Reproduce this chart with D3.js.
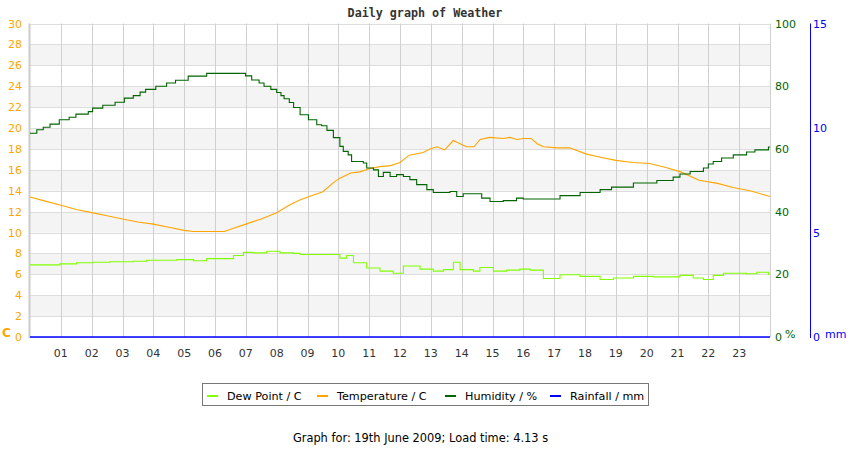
<!DOCTYPE html>
<html>
<head>
<meta charset="utf-8">
<script src="https://cdn.jsdelivr.net/npm/d3@7"></script>
<style>
  body { margin: 0; background: #fff; }
  text { font-family: "DejaVu Sans", sans-serif; }
</style>
</head>
<body>
<svg width="850" height="450"></svg>
<script>
// series data, time in hours of the day
var tempHours = [0, 0.5, 1, 1.5, 2, 2.5, 3, 3.5, 4, 4.5, 5, 5.3, 6, 6.3, 6.6, 7, 7.5, 8, 8.4, 8.75, 9.1, 9.5, 9.85, 10.05, 10.4, 10.7, 11.0, 11.35, 11.7, 12.0, 12.3, 12.75, 12.97, 13.2, 13.45, 13.73, 13.95, 14.15, 14.4, 14.6, 14.9, 15.35, 15.55, 15.8, 16.0, 16.25, 16.45, 16.65, 17.1, 17.5, 18.05, 18.5, 19.0, 19.55, 20.1, 20.65, 21.1, 21.7, 22.3, 22.8, 23.35, 24];
var tempValues = [13.4, 13.0, 12.6, 12.2, 11.9, 11.6, 11.3, 11.0, 10.8, 10.5, 10.2, 10.1, 10.1, 10.1, 10.4, 10.8, 11.3, 11.9, 12.6, 13.1, 13.5, 13.9, 14.8, 15.2, 15.7, 15.8, 16.1, 16.3, 16.4, 16.7, 17.4, 17.65, 18.0, 18.2, 17.9, 18.8, 18.5, 18.2, 18.2, 18.9, 19.1, 19.0, 19.1, 18.9, 19.0, 19.0, 18.5, 18.2, 18.1, 18.1, 17.5, 17.2, 16.9, 16.7, 16.6, 16.2, 15.8, 15.0, 14.7, 14.3, 14.0, 13.45];

var humHours = [0, 0.22, 0.43, 0.65, 0.95, 1.27, 1.49, 1.89, 2.03, 2.36, 2.76, 3.06, 3.35, 3.57, 3.75, 4.08, 4.43, 4.72, 5.13, 5.73, 6.99, 7.19, 7.43, 7.59, 7.81, 8.0, 8.14, 8.24, 8.41, 8.55, 8.76, 9.03, 9.3, 9.46, 9.63, 9.84, 10.05, 10.16, 10.32, 10.43, 10.81, 10.92, 11.14, 11.3, 11.46, 11.68, 11.89, 12.11, 12.32, 12.54, 12.87, 13.08, 13.62, 13.84, 14.05, 14.65, 14.92, 15.35, 15.78, 16.0, 17.19, 17.84, 18.49, 18.86, 19.57, 20.33, 20.86, 21.08, 21.41, 21.84, 22.0, 22.16, 22.43, 22.81, 23.24, 23.51, 23.95, 24];
var humValues = [65.0, 66.1, 66.9, 67.9, 69.3, 70.1, 71.1, 71.9, 73.0, 73.9, 74.9, 76.2, 77.0, 78.1, 79.0, 80.0, 81.0, 81.9, 83.2, 84.1, 83.3, 82.0, 81.0, 80.0, 79.0, 78.0, 77.0, 76.0, 74.8, 73.2, 70.9, 69.3, 67.7, 67.4, 65.9, 63.6, 60.8, 59.2, 58.1, 56.0, 55.5, 53.9, 53.3, 51.2, 52.5, 51.2, 51.8, 51.2, 50.2, 48.6, 47.0, 46.1, 46.4, 44.8, 45.7, 44.3, 43.2, 43.5, 44.3, 44.0, 45.1, 46.1, 47.0, 47.8, 49.1, 49.9, 51.0, 52.0, 52.8, 53.9, 55.2, 56.0, 57.1, 58.1, 59.0, 59.7, 60.6, 60.6];

var dewHours = [0, 0.43, 0.97, 1.51, 2.05, 2.59, 3.35, 3.78, 4.43, 4.76, 5.3, 5.73, 6.27, 6.6, 6.92, 7.24, 7.68, 8.11, 8.54, 8.76, 9.41, 10.05, 10.27, 10.49, 10.92, 11.35, 11.78, 12.11, 12.65, 13.08, 13.41, 13.73, 13.95, 14.38, 14.59, 15.03, 15.46, 15.89, 16.22, 16.65, 17.08, 17.19, 17.62, 17.84, 18.49, 18.92, 19.57, 20.22, 21.08, 21.51, 21.84, 22.16, 22.49, 23.24, 23.57, 23.95, 24];
var dewValues = [6.9, 6.9, 7.0, 7.1, 7.15, 7.2, 7.25, 7.35, 7.35, 7.4, 7.3, 7.5, 7.5, 7.8, 8.1, 8.05, 8.2, 8.05, 8.0, 7.9, 7.9, 7.55, 7.8, 7.1, 6.6, 6.3, 6.1, 6.8, 6.5, 6.3, 6.45, 7.15, 6.45, 6.3, 6.65, 6.3, 6.4, 6.5, 6.4, 5.6, 5.6, 5.95, 5.95, 5.8, 5.5, 5.65, 5.8, 5.75, 5.9, 5.65, 5.5, 5.9, 6.1, 6.05, 6.2, 6.0, 6.0];

var rainHours = [0, 24];
var rainValues = [0, 0];

var hourTicks = d3.range(1, 24);
var tempTicks = d3.range(0, 31, 2);
var humTicks = d3.range(0, 101, 20);
var rainTicks = [0, 5, 10, 15];

var legendItems = [
    { name: "Dew Point / C", color: "#80ff00" },
    { name: "Temperature / C", color: "#ffa500" },
    { name: "Humidity / %", color: "#006400" },
    { name: "Rainfall / mm", color: "#0000ff" }
];

var svg = d3.select('svg');
var plotLeft = 30, plotRight = 770, plotTop = 23.5, plotBottom = 337;

var x = d3.scaleLinear().domain([0, 24]).range([plotLeft, plotRight]);
var yTemp = d3.scaleLinear().domain([0, 30]).range([plotBottom, plotTop]);
var yHum = d3.scaleLinear().domain([0, 100]).range([plotBottom, plotTop]);
var yRain = d3.scaleLinear().domain([0, 15]).range([plotBottom, plotTop]);

// alternating bands
svg.append('g').selectAll('rect')
    .data(d3.range(0, 30, 2))
    .enter()
    .append('rect')
    .attr('x', plotLeft)
    .attr('width', plotRight - plotLeft)
    .attr('y', function(d) { return yTemp(d + 2); })
    .attr('height', function(d) { return yTemp(d) - yTemp(d + 2); })
    .attr('fill', function(d) { return (d / 2) % 2 == 1 ? '#f4f4f4' : '#fff'; });

// horizontal grid
svg.append('g').selectAll('line')
    .data(tempTicks)
    .enter()
    .append('line')
    .attr('x1', plotLeft).attr('x2', plotRight)
    .attr('y1', function(d) { return Math.round(yTemp(d)) + 0.5; })
    .attr('y2', function(d) { return Math.round(yTemp(d)) + 0.5; })
    .attr('stroke', '#dddddd');

// vertical grid
svg.append('g').selectAll('line')
    .data(d3.range(1, 25))
    .enter()
    .append('line')
    .attr('x1', function(d) { return Math.round(x(d)) + 0.5; })
    .attr('x2', function(d) { return Math.round(x(d)) + 0.5; })
    .attr('y1', plotTop).attr('y2', plotBottom)
    .attr('stroke', '#d0d0d0');

// left axis line
svg.append('line')
    .attr('x1', plotLeft - 0.5).attr('x2', plotLeft - 0.5)
    .attr('y1', plotTop).attr('y2', plotBottom + 1)
    .attr('stroke', '#cccccc').attr('stroke-width', 2);

// series
function drawSeries(hours, values, scale, color, curve, width) {
    var pts = hours.map(function(h, i) { return [h, values[i]]; });
    var line = d3.line()
        .x(function(d) { return x(d[0]); })
        .y(function(d) { return scale(d[1]); })
        .curve(curve);
    svg.append('path')
        .datum(pts)
        .attr('d', line)
        .attr('fill', 'none')
        .attr('stroke', color)
        .attr('stroke-width', width);
}
drawSeries(dewHours, dewValues, yTemp, '#80ff00', d3.curveStepAfter, 1.1);
drawSeries(tempHours, tempValues, yTemp, '#ffa500', d3.curveLinear, 1.1);
drawSeries(humHours, humValues, yHum, '#006400', d3.curveStepAfter, 1.1);
drawSeries(rainHours, rainValues, yRain, '#0000ff', d3.curveStepAfter, 1.6);

// left axis labels
svg.append('g').selectAll('text')
    .data(tempTicks)
    .enter()
    .append('text')
    .attr('x', 22)
    .attr('y', function(d) { return yTemp(d) + 4; })
    .attr('text-anchor', 'end')
    .attr('font-size', 11)
    .attr('fill', '#ffa500')
    .text(function(d) { return d; });
svg.append('text')
    .attr('x', 2).attr('y', 337)
    .attr('font-size', 12).attr('font-weight', 'bold')
    .attr('fill', '#ffa500')
    .text('C');

// humidity axis labels
svg.append('g').selectAll('text')
    .data(humTicks)
    .enter()
    .append('text')
    .attr('x', 775)
    .attr('y', function(d) { return yHum(d) + 4; })
    .attr('font-size', 11)
    .attr('fill', '#006400')
    .text(function(d) { return d; });
svg.append('text')
    .attr('x', 785).attr('y', 338)
    .attr('font-size', 11)
    .attr('fill', '#006400')
    .text('%');

// rainfall axis
svg.append('line')
    .attr('x1', 810.5).attr('x2', 810.5)
    .attr('y1', plotTop).attr('y2', plotBottom + 1)
    .attr('stroke', '#0000ff');
svg.append('g').selectAll('text')
    .data(rainTicks)
    .enter()
    .append('text')
    .attr('x', 813)
    .attr('y', function(d) { return yRain(d) + 4; })
    .attr('font-size', 11)
    .attr('fill', '#0000ff')
    .text(function(d) { return d; });
svg.append('text')
    .attr('x', 825).attr('y', 338)
    .attr('font-size', 11)
    .attr('fill', '#0000ff')
    .text('mm');

// hour labels
svg.append('g').selectAll('text')
    .data(hourTicks)
    .enter()
    .append('text')
    .attr('x', function(d) { return x(d); })
    .attr('y', 357)
    .attr('text-anchor', 'middle')
    .attr('font-size', 11)
    .attr('fill', '#333')
    .text(function(d) { return d3.format('02d')(d); });

// title
svg.append('text')
    .attr('x', 425).attr('y', 17)
    .attr('text-anchor', 'middle')
    .style('font-family', '"DejaVu Sans Mono", monospace')
    .attr('font-size', 11.7).attr('font-weight', 'bold')
    .attr('fill', '#333')
    .text('Daily graph of Weather');

// legend
svg.append('rect')
    .attr('x', 202.5).attr('y', 383.5)
    .attr('width', 446).attr('height', 22)
    .attr('fill', '#fff').attr('stroke', '#777');
var legendX = [207, 317, 445, 550];
var legend = svg.append('g').selectAll('g')
    .data(legendItems)
    .enter()
    .append('g')
    .attr('transform', function(d, i) { return 'translate(' + legendX[i] + ',396)'; });
legend.append('line')
    .attr('x1', 0).attr('x2', 11)
    .attr('y1', 0).attr('y2', 0)
    .attr('stroke', function(d) { return d.color; })
    .attr('stroke-width', 2);
legend.append('text')
    .attr('x', 20).attr('y', 4)
    .attr('font-size', 11.2)
    .attr('fill', '#000')
    .text(function(d) { return d.name; });

// footer
svg.append('text')
    .attr('x', 420.5).attr('y', 442)
    .attr('text-anchor', 'middle')
    .attr('font-size', 11.4)
    .attr('fill', '#000')
    .text('Graph for: 19th June 2009; Load time: 4.13 s');
</script>
</body>
</html>
